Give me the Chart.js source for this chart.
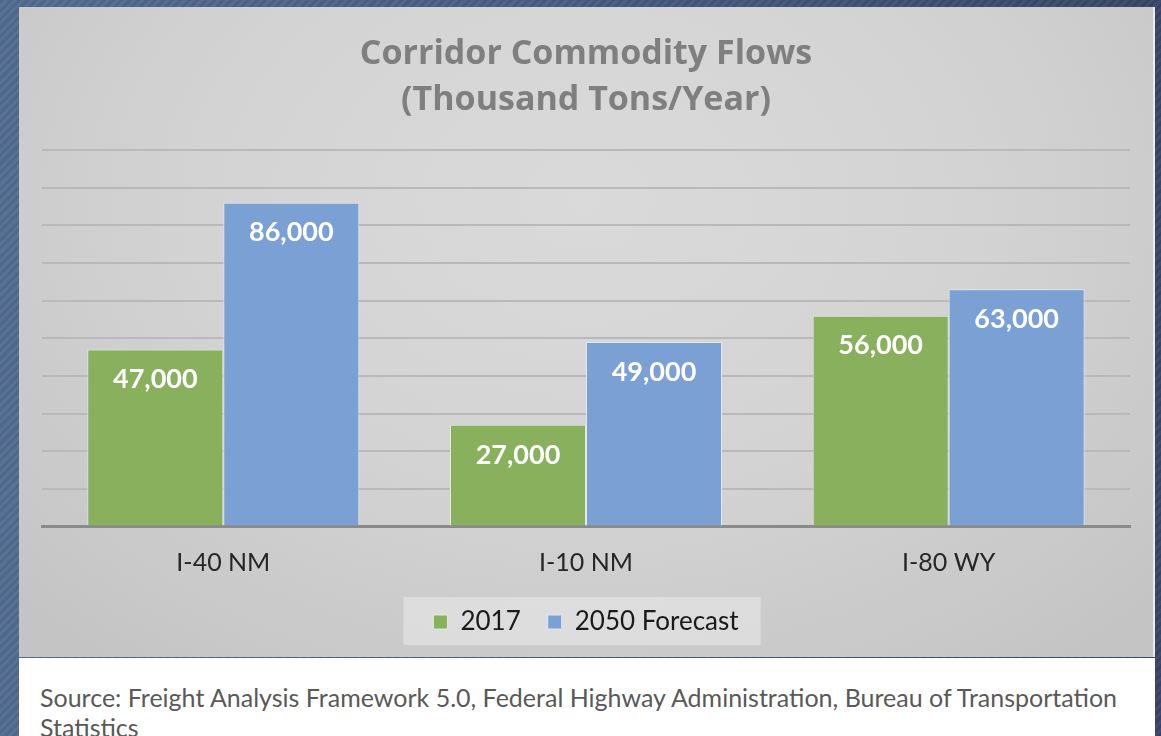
<!DOCTYPE html>
<html>
<head>
<meta charset="utf-8">
<script src="https://cdn.jsdelivr.net/npm/chart.js@4"></script>
<style>
  html, body { margin: 0; padding: 0; }
  body {
    width: 1161px; height: 736px; overflow: hidden; position: relative;
    background:
      repeating-linear-gradient(-45deg, rgba(0,0,0,0.05) 0 3px, rgba(255,255,255,0.03) 3px 6px),
      linear-gradient(to right, #536d91, #475d83 50%, #3a4668);
  }
  #panel {
    position: absolute; left: 19px; top: 7px; width: 1134px; height: 650px;
    background: radial-gradient(ellipse 70% 90% at 50% 30%, #dadada 0%, #d3d3d3 50%, #c4c4c4 100%);
    border-right: 2px solid #ececec;
  }
  #source {
    position: absolute; left: 19px; top: 658px; width: 1136px; height: 78px;
    background: #fff;
    font-family: Lato, "Open Sans", sans-serif; font-size: 25px; color: #595959;
    line-height: 30px; box-sizing: border-box; padding: 24px 0 0 21px;
  }
  #wrap { position: absolute; left: 19px; top: 7px; width: 1136px; height: 638px; z-index: 2; }
</style>
</head>
<body>
<div id="panel"></div>
<div id="source">Source: Freight Analysis Framework 5.0, Federal Highway Administration, Bureau of Transportation<br>Statistics</div>
<div id="wrap"><canvas id="chart"></canvas></div>
<script>
const categories = ['I-40 NM', 'I-10 NM', 'I-80 WY'];
const flows2017 = [47000, 27000, 56000];
const flows2050 = [86000, 49000, 63000];
const seriesNames = ['2017', '2050 Forecast'];

// fundo cinza claro atras da legenda
const legendBox = {
  id: 'legendBox',
  beforeDraw(chart) {
    const lg = chart.legend;
    if (!lg || !lg.legendHitBoxes.length) return;
    const boxes = lg.legendHitBoxes;
    const first = boxes[0], last = boxes[boxes.length - 1];
    const ctx = chart.ctx;
    const cy = first.top + first.height / 2;
    ctx.save();
    ctx.fillStyle = 'rgba(235,235,235,0.55)';
    ctx.fillRect(first.left - 30, cy - 25, (last.left + last.width) - first.left + 52, 50);
    ctx.restore();
  }
};

// rotulos brancos dentro das barras
const barLabels = {
  id: 'barLabels',
  afterDatasetsDraw(chart) {
    const ctx = chart.ctx;
    ctx.save();
    ctx.fillStyle = '#ffffff';
    ctx.font = 'bold 27px Lato, "Open Sans", sans-serif';
    ctx.textAlign = 'center';
    ctx.textBaseline = 'middle';
    chart.data.datasets.forEach((ds, i) => {
      chart.getDatasetMeta(i).data.forEach((bar, j) => {
        ctx.fillText(ds.data[j].toLocaleString('en-US'), bar.x, bar.y + 30);
      });
    });
    ctx.restore();
  }
};

new Chart(document.getElementById('chart'), {
  type: 'bar',
  data: {
    labels: categories,
    datasets: [
      { label: seriesNames[0], data: flows2017, backgroundColor: '#88b05d', borderColor: '#e3ead9', borderWidth: 1 },
      { label: seriesNames[1], data: flows2050, backgroundColor: '#7ba0d3', borderColor: '#e1e8f2', borderWidth: 1 }
    ]
  },
  options: {
    responsive: true,
    maintainAspectRatio: false,
    animation: false,
    datasets: { bar: { categoryPercentage: 0.75, barPercentage: 1 } },
    layout: { padding: { left: 23, right: 25, top: 0, bottom: 0 } },
    plugins: {
      title: {
        display: true,
        text: ['Corridor Commodity Flows', '(Thousand Tons/Year)'],
        color: '#7f7f7f',
        font: { family: '"Open Sans", Lato, sans-serif', size: 34, weight: 'bold', lineHeight: 1.353 },
        padding: { top: 24, bottom: 27 }
      },
      legend: {
        position: 'bottom',
        labels: {
          color: '#1a1a1a',
          font: { family: 'Lato, "Open Sans", sans-serif', size: 26, lineHeight: 0.5 },
          boxWidth: 14, boxHeight: 14, padding: 27
        }
      },
      tooltip: { enabled: false }
    },
    scales: {
      x: {
        grid: { display: false, drawTicks: false },
        border: { display: true, color: '#8a8a8a', width: 3 },
        ticks: { color: '#262626', padding: 35, font: { family: 'Lato, "Open Sans", sans-serif', size: 25, lineHeight: 0.1 } },
        // eixo mais baixo, legenda mais perto dos rotulos
        afterFit(scale) { scale.height = Math.max(0, scale.height - 17); }
      },
      y: {
        min: 0, max: 100000,
        ticks: { display: false, stepSize: 10000 },
        grid: { color: '#b9b9b9', lineWidth: 2, drawTicks: false },
        border: { display: false }
      }
    }
  },
  plugins: [legendBox, barLabels]
});
</script>
</body>
</html>
